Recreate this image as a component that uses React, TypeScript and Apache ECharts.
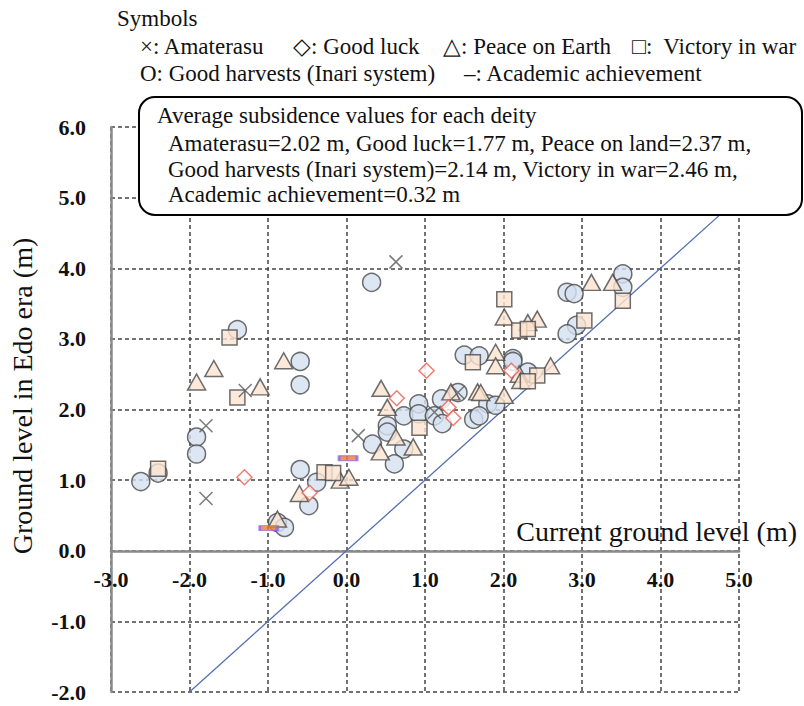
import React, { useEffect, useRef } from "react";
import * as echarts from "echarts";

const X_MIN = -3, X_MAX = 5, Y_MIN = -2, Y_MAX = 6;

const amaterasu: number[][] = [
  [0.63, 4.09], [-1.29, 2.27], [-1.79, 1.77], [-1.79, 0.74], [0.15, 1.63], [1.42, 2.24], [1.12, 1.96],
];
const goodLuck: number[][] = [
  [-1.30, 1.04], [-0.47, 0.82], [1.02, 2.55], [0.64, 2.16], [1.30, 2.03], [1.36, 1.88], [2.10, 2.55],
];
const peaceOnEarth: number[][] = [
  [-1.91, 2.39], [-1.69, 2.58], [-1.10, 2.32], [-0.80, 2.69], [-0.88, 0.45], [-0.60, 0.81],
  [-0.08, 1.0], [0.03, 1.04], [0.44, 2.30], [0.52, 2.03], [0.63, 1.61], [0.43, 1.40], [0.85, 1.47],
  [1.33, 2.25], [1.67, 2.25], [2.01, 3.31], [2.43, 3.28], [2.31, 3.23], [3.12, 3.80], [3.39, 3.80],
  [1.90, 2.81], [1.90, 2.62], [2.20, 2.50], [2.60, 2.62], [2.22, 2.41], [1.71, 2.24], [2.01, 2.20],
];
const victoryInWar: number[][] = [
  [-2.40, 1.16], [-1.49, 3.02], [-1.39, 2.17], [-0.28, 1.11], [-0.17, 1.10], [0.93, 1.74],
  [1.61, 2.67], [2.01, 3.56], [2.20, 3.12], [2.31, 3.14], [3.52, 3.54], [3.03, 3.26], [2.43, 2.48], [2.31, 2.40],
];
const goodHarvests: number[][] = [
  [-2.62, 0.98], [-2.40, 1.10], [-1.91, 1.61], [-1.91, 1.37], [-1.39, 3.13], [-0.59, 2.68], [-0.59, 2.35],
  [-0.59, 1.15], [-0.38, 0.97], [-0.48, 0.64], [-0.88, 0.40], [-0.79, 0.33], [0.32, 3.80], [0.73, 1.91],
  [0.92, 2.08], [0.92, 1.94], [1.12, 1.91], [1.21, 2.15], [1.22, 1.80], [1.42, 2.24], [0.52, 1.77],
  [0.52, 1.68], [0.33, 1.51], [0.73, 1.44], [0.61, 1.23], [1.62, 1.86], [1.50, 2.77], [1.69, 2.76],
  [2.12, 2.72], [2.12, 2.68], [2.31, 2.53], [2.81, 3.66], [2.90, 3.64], [3.52, 3.92], [3.52, 3.73],
  [2.93, 3.19], [2.81, 3.07], [1.80, 2.08], [1.90, 2.06], [1.69, 1.91],
];
const academic: number[][] = [[-0.99, 0.32], [0.02, 1.31]];
const refLine: number[][] = [[-2, -2], [5, 5]];

const legendLines = [
  { text: "Symbols", x: 117, y: 18 },
  { text: "×: Amaterasu", x: 140, y: 46 },
  { text: "◇: Good luck", x: 293, y: 46 },
  { text: "△: Peace on Earth", x: 443, y: 46 },
  { text: "□:  Victory in war", x: 632, y: 46 },
  { text: "O: Good harvests (Inari system)", x: 140, y: 73 },
  { text: "–: Academic achievement", x: 464, y: 73 },
];
const boxLines = [
  { text: "Average subsidence values for each deity", x: 157, y: 115 },
  { text: "Amaterasu=2.02 m, Good luck=1.77 m, Peace on land=2.37 m,", x: 168, y: 143 },
  { text: "Good harvests (Inari system)=2.14 m, Victory in war=2.46 m,", x: 168, y: 169 },
  { text: "Academic achievement=0.32 m", x: 168, y: 194 },
];

const SERIF = "Liberation Serif";
const PEACH = "#fde4cf";
const BLUE = "#d4e1f1";
const EDGE = "#4a4a4a";

export default function App() {
  const ref = useRef<HTMLDivElement>(null);
  useEffect(() => {
    document.body.style.margin = "0";
    const chart = echarts.init(ref.current!, undefined, { renderer: "svg" });
    const txt = (t: { text: string; x: number; y: number }, size: number) => ({
      type: "text",
      x: t.x,
      y: t.y,
      z: 101,
      style: { text: t.text, fontSize: size, fontFamily: SERIF, fill: "#111", textAlign: "left", textVerticalAlign: "middle" },
    });
    chart.setOption({
      animation: false,
      backgroundColor: "#fff",
      grid: { left: 111, right: 65, top: 127, bottom: 14, outerBoundsMode: "none", containLabel: false },
      xAxis: {
        type: "value", min: X_MIN, max: X_MAX, interval: 1, position: "bottom", offset: -141,
        axisLine: { onZero: false, lineStyle: { color: "#8a8a8a", width: 2.5 } },
        axisTick: { show: false },
        axisLabel: { margin: 17, fontSize: 22, fontWeight: "bold", fontFamily: SERIF, color: "#111", formatter: (v: number) => v.toFixed(1) },
        splitLine: { show: true, lineStyle: { color: "#444", width: 1.5, type: [4, 3] } },
      },
      yAxis: {
        type: "value", min: Y_MIN, max: Y_MAX, interval: 1,
        axisLine: { show: true, onZero: false, lineStyle: { color: "#8a8a8a", width: 2.5 } },
        axisTick: { show: false },
        axisLabel: { margin: 25, fontSize: 22, fontWeight: "bold", fontFamily: SERIF, color: "#111", formatter: (v: number) => v.toFixed(1) },
        splitLine: { show: true, lineStyle: { color: "#444", width: 1.5, type: [4, 3] } },
      },
      series: [
        { type: "line", data: refLine, showSymbol: false, symbol: "none", lineStyle: { color: "#5470b0", width: 1.3 }, z: 1 },
        { name: "Good harvests", type: "scatter", data: goodHarvests, symbol: "circle", symbolSize: 18, itemStyle: { color: BLUE, borderColor: EDGE, borderWidth: 1.5 }, z: 2 },
        { name: "Peace on Earth", type: "scatter", data: peaceOnEarth, symbol: "triangle", symbolSize: [18, 16], itemStyle: { color: PEACH, borderColor: EDGE, borderWidth: 1.5 }, z: 3 },
        { name: "Victory in war", type: "scatter", data: victoryInWar, symbol: "rect", symbolSize: 15, itemStyle: { color: PEACH, borderColor: EDGE, borderWidth: 1.5 }, z: 4 },
        { name: "Good luck", type: "scatter", data: goodLuck, symbol: "diamond", symbolSize: [15, 15], itemStyle: { color: "#fff", borderColor: "#ec5d50", borderWidth: 1.5 }, z: 5 },
        { name: "Amaterasu", type: "scatter", data: amaterasu, symbol: "path://M0,0L10,10M10,0L0,10", symbolSize: 13, itemStyle: { color: "none", borderColor: "#5a5a5a", borderWidth: 1.5 }, z: 6 },
        { name: "Academic achievement", type: "scatter", data: academic, symbol: "rect", symbolSize: [18, 5], itemStyle: { color: "#f07a34", borderColor: "#7d6cf2", borderWidth: 1.5 }, z: 7 },
      ],
      graphic: [
        ...legendLines.map((t) => txt(t, 23)),
        {
          type: "rect", z: 100,
          shape: { x: 139, y: 97, width: 663, height: 118, r: 16 },
          style: { fill: "#fff", stroke: "#000", lineWidth: 2 },
        },
        ...boxLines.map((t) => txt(t, 23)),
        {
          type: "text", x: 797, y: 531, z: 101,
          style: { text: "Current ground level (m)", fontSize: 28, fontFamily: SERIF, fill: "#111", textAlign: "right", textVerticalAlign: "middle" },
        },
        {
          type: "text", x: 22, y: 396, rotation: Math.PI / 2, z: 101,
          style: { text: "Ground level in Edo era (m)", fontSize: 28, fontFamily: SERIF, fill: "#111", textAlign: "center", textVerticalAlign: "middle" },
        },
      ],
    });
    return () => chart.dispose();
  }, []);
  return <div ref={ref} style={{ width: 804, height: 706 }} />;
}
